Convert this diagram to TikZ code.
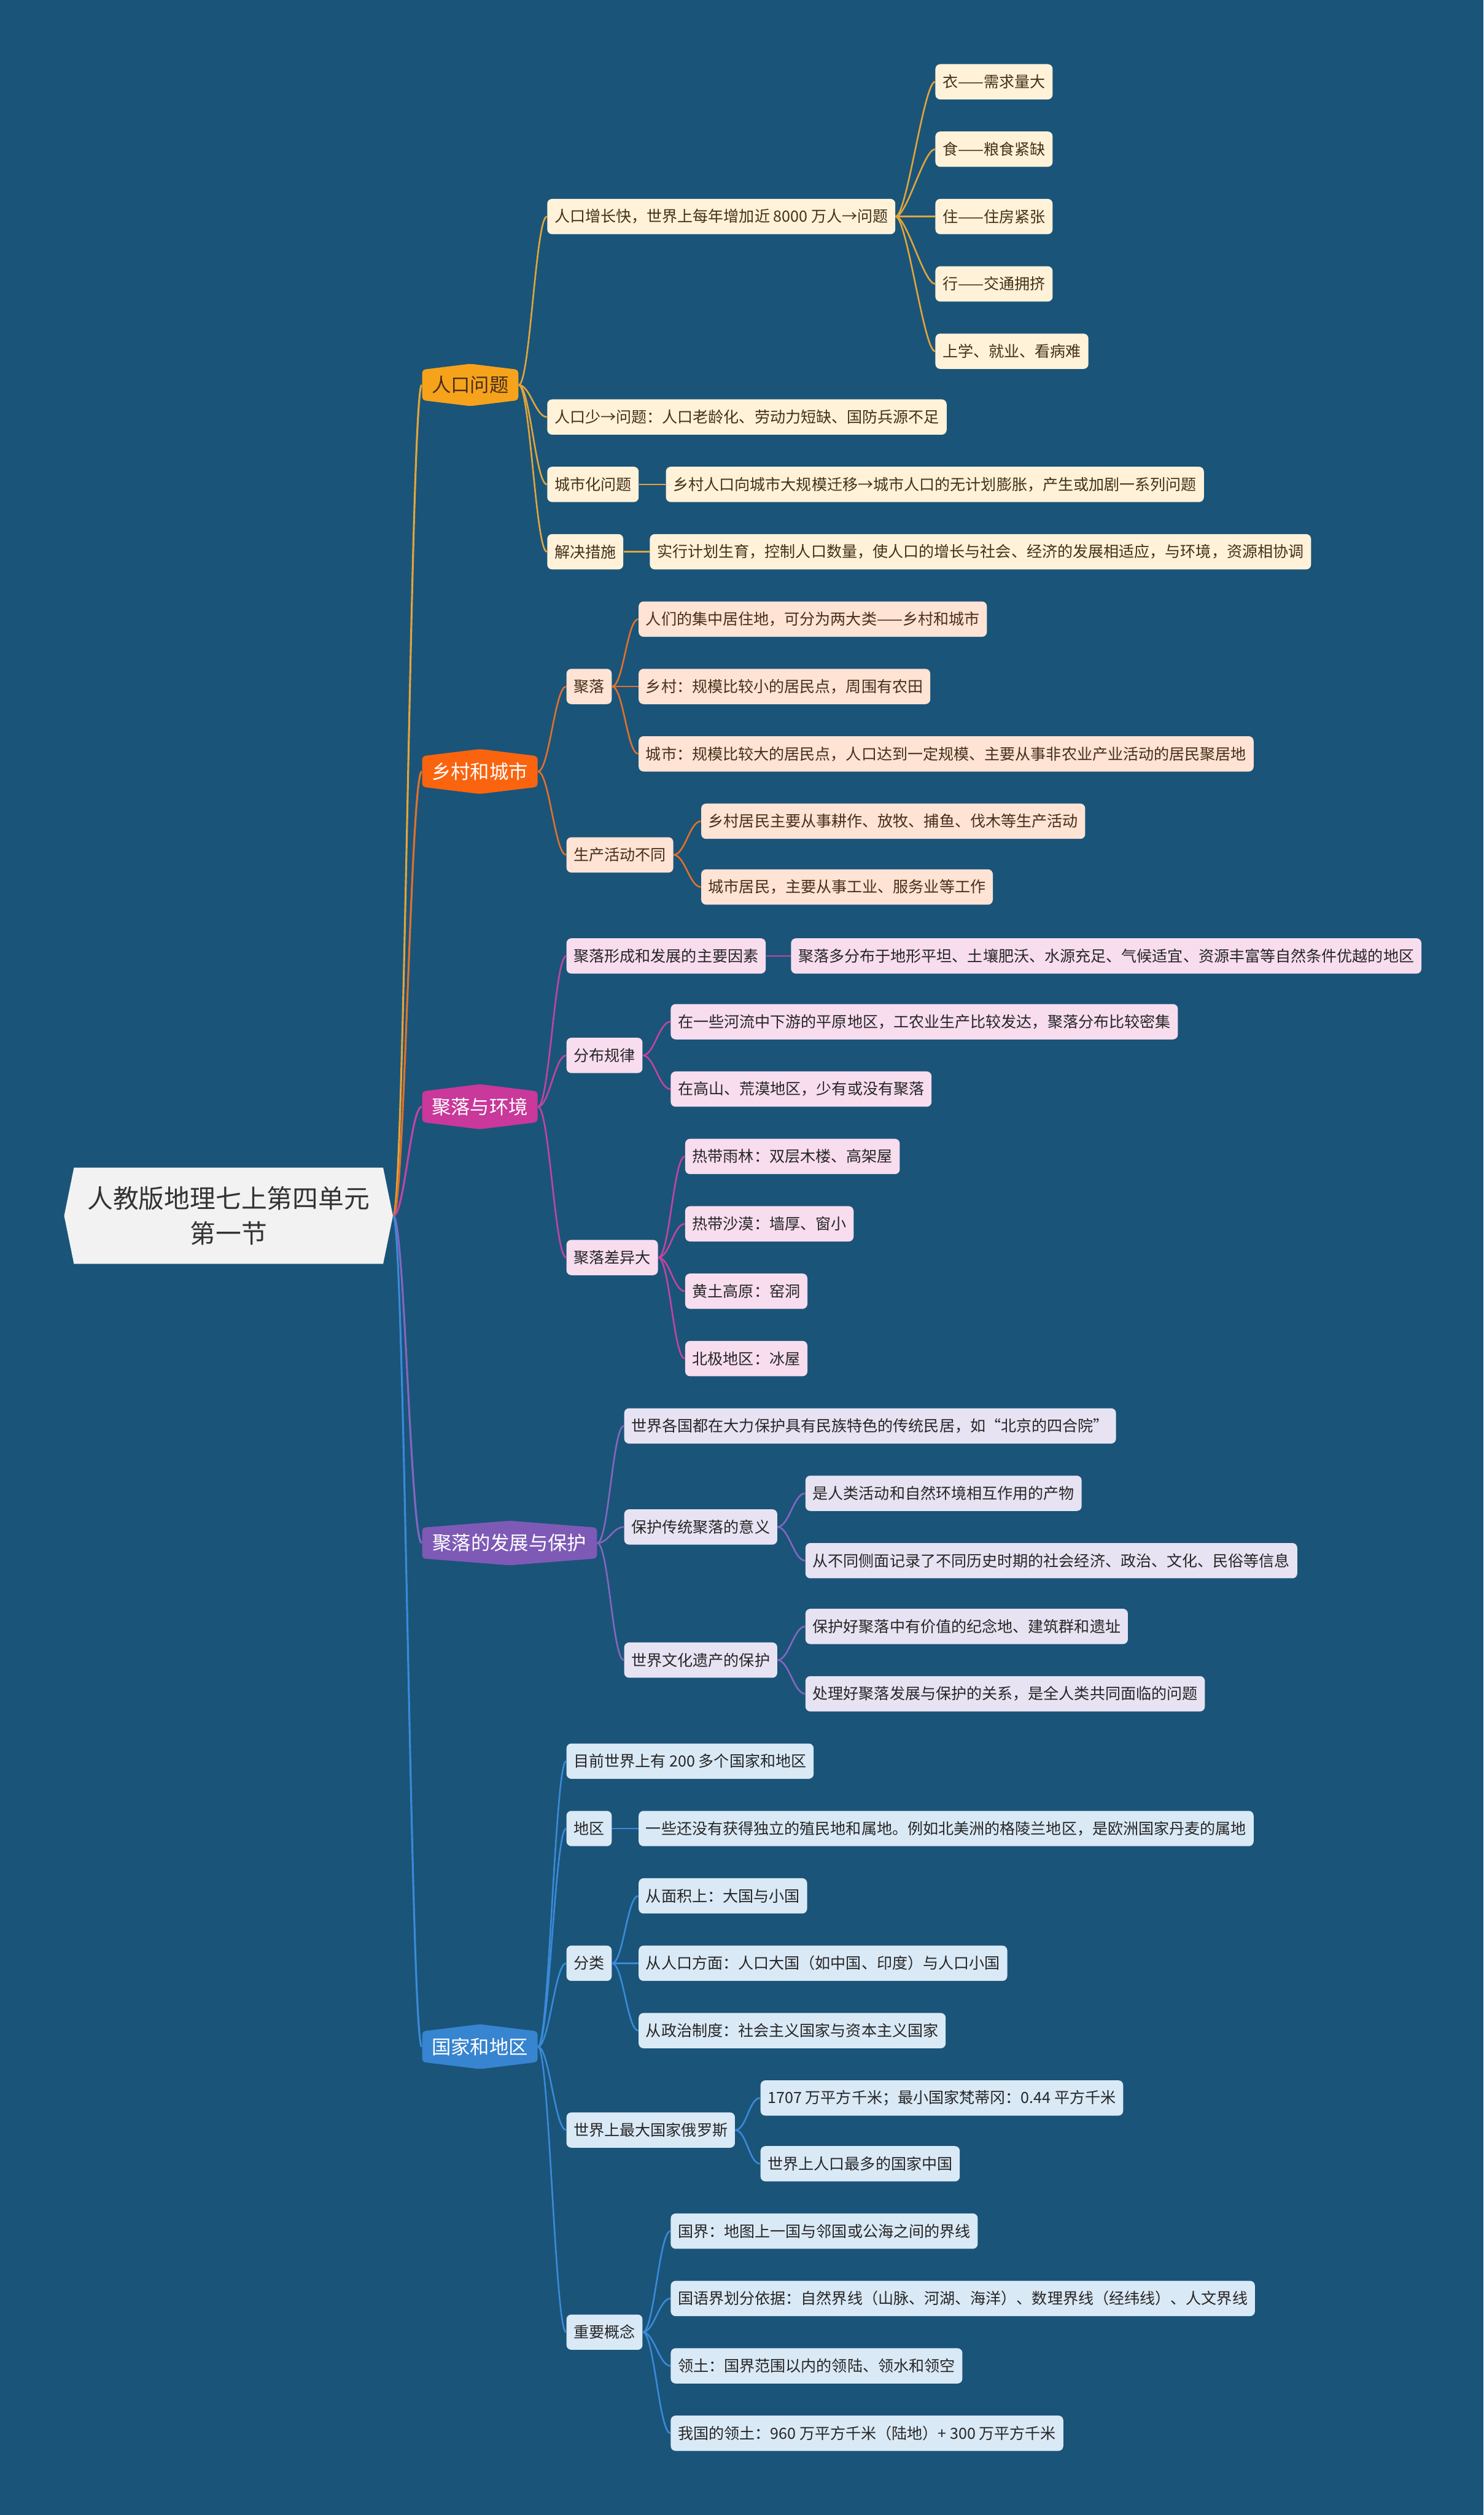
\documentclass[tikz,border=0pt]{standalone}
\usepackage{fontspec}
\setmainfont{Noto Sans CJK SC}
\usepackage{tikz}
\usetikzlibrary{shapes.symbols, positioning}
\usepackage{xcolor}
\definecolor{bgblue}{HTML}{1A5479}
\definecolor{rootfill}{HTML}{F2F2F2}
\definecolor{rootink}{HTML}{333333}
\definecolor{popc}{HTML}{F7A21B}
\definecolor{popline}{HTML}{E2A53A}
\definecolor{popleaf}{HTML}{FFF2D9}
\definecolor{popink}{HTML}{45301A}
\definecolor{ruralc}{HTML}{FA640F}
\definecolor{ruralline}{HTML}{E2702A}
\definecolor{ruralleaf}{HTML}{FFE3D4}
\definecolor{envc}{HTML}{C9389A}
\definecolor{envline}{HTML}{C244A0}
\definecolor{envleaf}{HTML}{F8DDEF}
\definecolor{protc}{HTML}{7E5AB6}
\definecolor{protline}{HTML}{8466BF}
\definecolor{protleaf}{HTML}{E7E3F3}
\definecolor{natc}{HTML}{3784D0}
\definecolor{natline}{HTML}{3A8AD8}
\definecolor{natleaf}{HTML}{DAE9F6}
\definecolor{ink}{HTML}{262626}

\begin{document}
\begin{tikzpicture}[
    x=1pt, y=-1pt,
    root/.style={signal, signal to=west and east, signal pointer angle=157, fill=rootfill, text=rootink, align=center, font=\fontsize{16}{22}\selectfont, minimum width=205pt, minimum height=60pt, inner sep=0pt},
    topic/.style={signal, signal to=north and south, signal pointer angle=166, rounded corners=2pt, fill=#1, text=white, font=\fontsize{12}{14}\selectfont, inner xsep=6pt, inner ysep=4pt, anchor=west},
    leaf/.style={rounded corners=3pt, font=\fontsize{9.6}{12}\selectfont, inner xsep=4.5pt, minimum height=22pt, anchor=west},
    popbox/.style={leaf, fill=popleaf, text=popink},
    ruralbox/.style={leaf, fill=ruralleaf, text=popink},
    envbox/.style={leaf, fill=envleaf, text=ink},
    protbox/.style={leaf, fill=protleaf, text=ink},
    natbox/.style={leaf, fill=natleaf, text=ink},
    link/.style={draw=#1, line width=1pt},
    curve/.style={to path={.. controls +(7,0) and +(-7,0) .. (\tikztotarget)}}
]
\fill[bgblue] (0,0) rectangle (925,1568);
\useasboundingbox (0,0) rectangle (925,1568);

% central topic
\node[root] (root) at (142.5,758) {人教版地理七上第四单元\\第一节};

% main branches
\node[topic=popc, text=popink] (pop) at (263,240) {人口问题};
\node[topic=ruralc] (rural) at (263,481) {乡村和城市};
\node[topic=envc] (env) at (263,690) {聚落与环境};
\node[topic=protc, minimum width=109pt, signal pointer angle=171] (prot) at (263,962) {聚落的发展与保护};
\node[topic=natc] (nation) at (263,1276) {国家和地区};

% 人口问题
\node[popbox] (popFast) at (341,135) {人口增长快，世界上每年增加近 8000 万人→问题};
\node[popbox] (popYi) at (583,51) {衣——需求量大};
\node[popbox] (popShi) at (583,93) {食——粮食紧缺};
\node[popbox] (popZhu) at (583,135) {住——住房紧张};
\node[popbox] (popXing) at (583,177) {行——交通拥挤};
\node[popbox] (popStudy) at (583,219) {上学、就业、看病难};
\node[popbox] (popFew) at (341,260) {人口少→问题：人口老龄化、劳动力短缺、国防兵源不足};
\node[popbox] (popUrb) at (341,302) {城市化问题};
\node[popbox] (popUrbNote) at (415,302) {乡村人口向城市大规模迁移→城市人口的无计划膨胀，产生或加剧一系列问题};
\node[popbox] (popFix) at (341,344) {解决措施};
\node[popbox] (popFixNote) at (405,344) {实行计划生育，控制人口数量，使人口的增长与社会、经济的发展相适应，与环境，资源相协调};

% 乡村和城市
\node[ruralbox] (ruSettle) at (353,428) {聚落};
\node[ruralbox] (ruDef) at (398,386) {人们的集中居住地，可分为两大类——乡村和城市};
\node[ruralbox] (ruVillage) at (398,428) {乡村：规模比较小的居民点，周围有农田};
\node[ruralbox] (ruCity) at (398,470) {城市：规模比较大的居民点，人口达到一定规模、主要从事非农业产业活动的居民聚居地};
\node[ruralbox] (ruWork) at (353,533) {生产活动不同};
\node[ruralbox] (ruWorkV) at (437,512) {乡村居民主要从事耕作、放牧、捕鱼、伐木等生产活动};
\node[ruralbox] (ruWorkC) at (437,553) {城市居民，主要从事工业、服务业等工作};

% 聚落与环境
\node[envbox] (enFactor) at (353,596) {聚落形成和发展的主要因素};
\node[envbox] (enFactorNote) at (493,596) {聚落多分布于地形平坦、土壤肥沃、水源充足、气候适宜、资源丰富等自然条件优越的地区};
\node[envbox] (enRule) at (353,658) {分布规律};
\node[envbox] (enRulePlain) at (418,637) {在一些河流中下游的平原地区，工农业生产比较发达，聚落分布比较密集};
\node[envbox] (enRuleHigh) at (418,679) {在高山、荒漠地区，少有或没有聚落};
\node[envbox] (enDiff) at (353,784) {聚落差异大};
\node[envbox] (enRain) at (427,721) {热带雨林：双层木楼、高架屋};
\node[envbox] (enDesert) at (427,763) {热带沙漠：墙厚、窗小};
\node[envbox] (enLoess) at (427,805) {黄土高原：窑洞};
\node[envbox] (enArctic) at (427,847) {北极地区：冰屋};

% 聚落的发展与保护
\node[protbox] (prHouse) at (389,889) {世界各国都在大力保护具有民族特色的传统民居，如“北京的四合院”};
\node[protbox] (prMean) at (389,952) {保护传统聚落的意义};
\node[protbox] (prMeanA) at (502,931) {是人类活动和自然环境相互作用的产物};
\node[protbox] (prMeanB) at (502,973) {从不同侧面记录了不同历史时期的社会经济、政治、文化、民俗等信息};
\node[protbox] (prHeritage) at (389,1035) {世界文化遗产的保护};
\node[protbox] (prHerA) at (502,1014) {保护好聚落中有价值的纪念地、建筑群和遗址};
\node[protbox] (prHerB) at (502,1056) {处理好聚落发展与保护的关系，是全人类共同面临的问题};

% 国家和地区
\node[natbox] (naCount) at (353,1098) {目前世界上有 200 多个国家和地区};
\node[natbox] (naArea) at (353,1140) {地区};
\node[natbox] (naAreaNote) at (398,1140) {一些还没有获得独立的殖民地和属地。例如北美洲的格陵兰地区，是欧洲国家丹麦的属地};
\node[natbox] (naKind) at (353,1224) {分类};
\node[natbox] (naKindA) at (398,1182) {从面积上：大国与小国};
\node[natbox] (naKindB) at (398,1224) {从人口方面：人口大国（如中国、印度）与人口小国};
\node[natbox] (naKindC) at (398,1266) {从政治制度：社会主义国家与资本主义国家};
\node[natbox] (naRussia) at (353,1328) {世界上最大国家俄罗斯};
\node[natbox] (naRussiaA) at (474,1308) {1707 万平方千米；最小国家梵蒂冈：0.44 平方千米};
\node[natbox] (naRussiaB) at (474,1349) {世界上人口最多的国家中国};
\node[natbox] (naConcept) at (353,1454) {重要概念};
\node[natbox] (naConA) at (418,1391) {国界：地图上一国与邻国或公海之间的界线};
\node[natbox] (naConB) at (418,1433) {国语界划分依据：自然界线（山脉、河湖、海洋）、数理界线（经纬线）、人文界线};
\node[natbox] (naConC) at (418,1475) {领土：国界范围以内的领陆、领水和领空};
\node[natbox] (naConD) at (418,1517) {我国的领土：960 万平方千米（陆地）+ 300 万平方千米};

% root to branches
\draw[link=popline, line width=1.2pt] (root.east) to[curve] (pop.west);
\draw[link=ruralline, line width=1.2pt] (root.east) to[curve] (rural.west);
\draw[link=envline, line width=1.2pt] (root.east) to[curve] (env.west);
\draw[link=protline, line width=1.2pt] (root.east) to[curve] (prot.west);
\draw[link=natline, line width=1.2pt] (root.east) to[curve] (nation.west);

% 人口问题 links
\draw[link=popline] (pop.east) to[curve] (popFast.west);
\draw[link=popline] (pop.east) to[curve] (popFew.west);
\draw[link=popline] (pop.east) to[curve] (popUrb.west);
\draw[link=popline] (pop.east) to[curve] (popFix.west);
\draw[link=popline] (popFast.east) to[curve] (popYi.west);
\draw[link=popline] (popFast.east) to[curve] (popShi.west);
\draw[link=popline] (popFast.east) to[curve] (popZhu.west);
\draw[link=popline] (popFast.east) to[curve] (popXing.west);
\draw[link=popline] (popFast.east) to[curve] (popStudy.west);
\draw[link=popline] (popUrb.east) -- (popUrbNote.west);
\draw[link=popline] (popFix.east) -- (popFixNote.west);

% 乡村和城市 links
\draw[link=ruralline] (rural.east) to[curve] (ruSettle.west);
\draw[link=ruralline] (rural.east) to[curve] (ruWork.west);
\draw[link=ruralline] (ruSettle.east) to[curve] (ruDef.west);
\draw[link=ruralline] (ruSettle.east) -- (ruVillage.west);
\draw[link=ruralline] (ruSettle.east) to[curve] (ruCity.west);
\draw[link=ruralline] (ruWork.east) to[curve] (ruWorkV.west);
\draw[link=ruralline] (ruWork.east) to[curve] (ruWorkC.west);

% 聚落与环境 links
\draw[link=envline] (env.east) to[curve] (enFactor.west);
\draw[link=envline] (env.east) to[curve] (enRule.west);
\draw[link=envline] (env.east) to[curve] (enDiff.west);
\draw[link=envline] (enFactor.east) -- (enFactorNote.west);
\draw[link=envline] (enRule.east) to[curve] (enRulePlain.west);
\draw[link=envline] (enRule.east) to[curve] (enRuleHigh.west);
\draw[link=envline] (enDiff.east) to[curve] (enRain.west);
\draw[link=envline] (enDiff.east) to[curve] (enDesert.west);
\draw[link=envline] (enDiff.east) to[curve] (enLoess.west);
\draw[link=envline] (enDiff.east) to[curve] (enArctic.west);

% 聚落的发展与保护 links
\draw[link=protline] (prot.east) to[curve] (prHouse.west);
\draw[link=protline] (prot.east) to[curve] (prMean.west);
\draw[link=protline] (prot.east) to[curve] (prHeritage.west);
\draw[link=protline] (prMean.east) to[curve] (prMeanA.west);
\draw[link=protline] (prMean.east) to[curve] (prMeanB.west);
\draw[link=protline] (prHeritage.east) to[curve] (prHerA.west);
\draw[link=protline] (prHeritage.east) to[curve] (prHerB.west);

% 国家和地区 links
\draw[link=natline] (nation.east) to[curve] (naCount.west);
\draw[link=natline] (nation.east) to[curve] (naArea.west);
\draw[link=natline] (nation.east) to[curve] (naKind.west);
\draw[link=natline] (nation.east) to[curve] (naRussia.west);
\draw[link=natline] (nation.east) to[curve] (naConcept.west);
\draw[link=natline] (naArea.east) -- (naAreaNote.west);
\draw[link=natline] (naKind.east) to[curve] (naKindA.west);
\draw[link=natline] (naKind.east) -- (naKindB.west);
\draw[link=natline] (naKind.east) to[curve] (naKindC.west);
\draw[link=natline] (naRussia.east) to[curve] (naRussiaA.west);
\draw[link=natline] (naRussia.east) to[curve] (naRussiaB.west);
\draw[link=natline] (naConcept.east) to[curve] (naConA.west);
\draw[link=natline] (naConcept.east) to[curve] (naConB.west);
\draw[link=natline] (naConcept.east) to[curve] (naConC.west);
\draw[link=natline] (naConcept.east) to[curve] (naConD.west);
\end{tikzpicture}
\end{document}
